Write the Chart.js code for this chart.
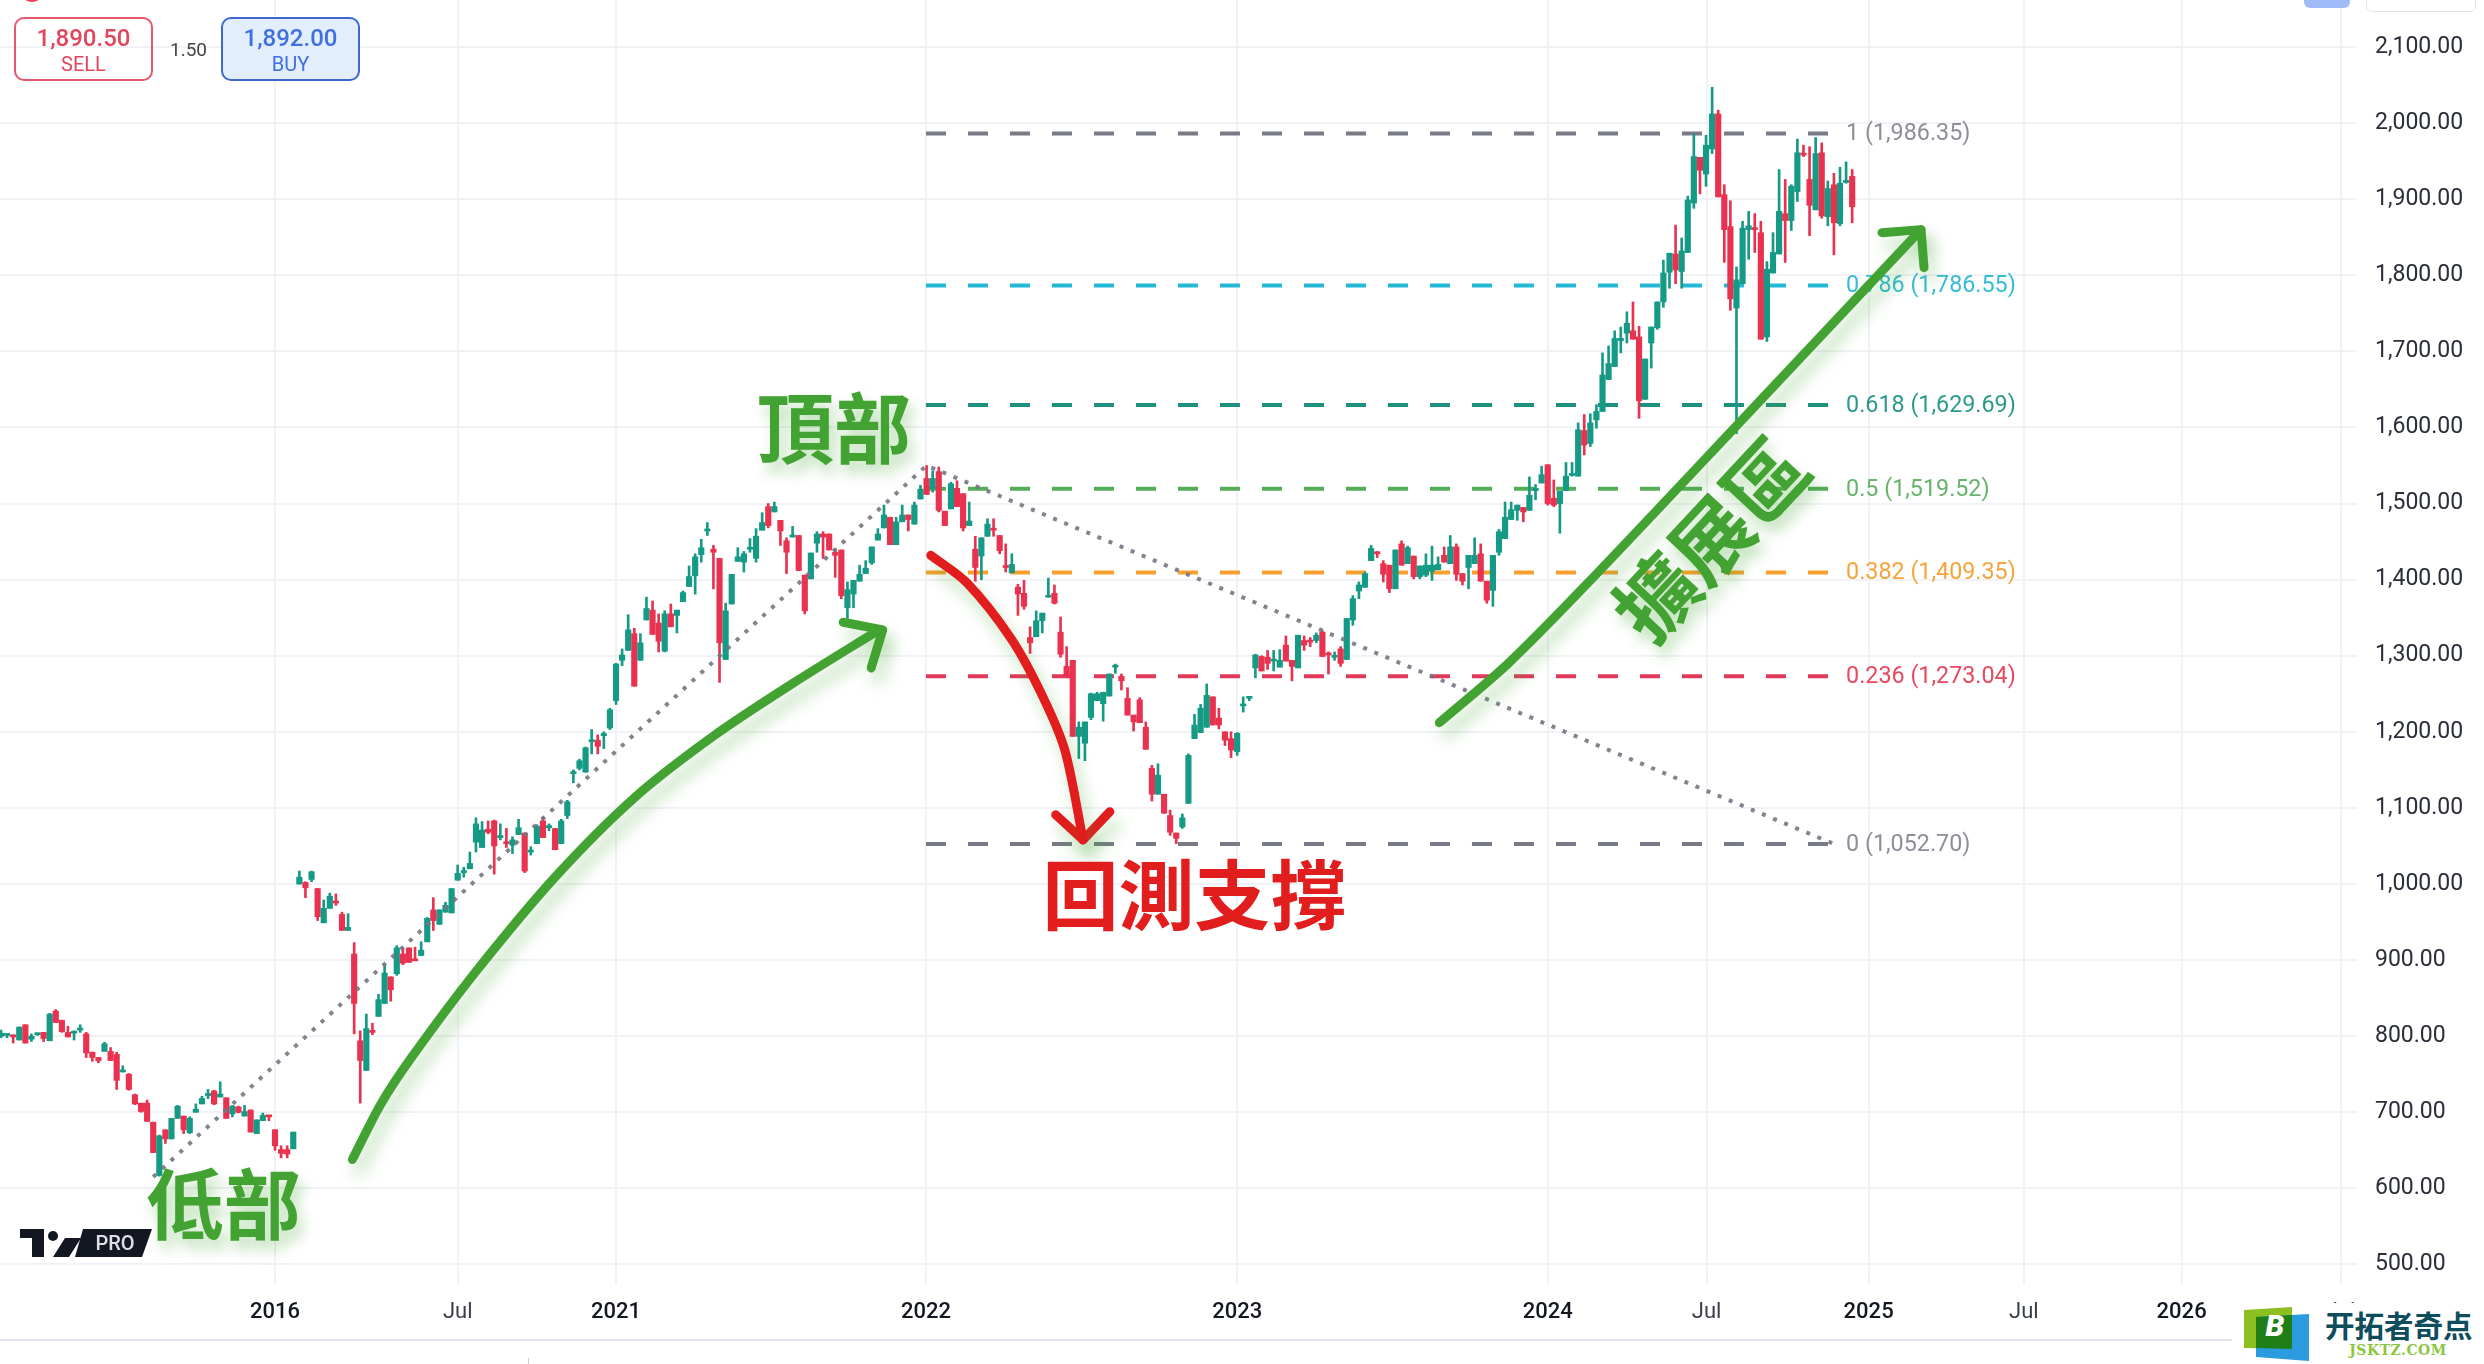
<!DOCTYPE html>
<html>
<head>
<meta charset="utf-8">
<title>Fibonacci chart</title>
<script src="https://cdn.jsdelivr.net/npm/chart.js@4/dist/chart.umd.min.js"></script>
<style>
body { margin: 0; background: #fff; font-family: Roboto, sans-serif; overflow: hidden; }
#wrap { position: relative; width: 2484px; height: 1364px; overflow: hidden; filter: blur(0.5px); }
canvas { position: absolute; left: 0; top: 0; }
.box { position: absolute; top: 17px; height: 60px; width: 135px; border-radius: 10px; border: 2px solid; text-align: center; box-sizing: content-box; }
.box b { display: block; font-weight: 500; font-size: 24px; line-height: 26px; margin-top: 6px; }
.box span { display: block; font-size: 20px; line-height: 22px; margin-top: 2px; }
#sell { left: 14px; border-color: #e8566b; color: #e2455c; }
#buy { left: 221px; border-color: #3c69cf; color: #3f70e2; background: #e3eefc; }
#spread { position: absolute; left: 170px; top: 38px; font-size: 19px; line-height: 24px; color: #444; }
.piece { position: absolute; }
</style>
</head>
<body>
<div id="wrap">
  <canvas id="goldChart" width="2484" height="1364"></canvas>

  <div id="sell" class="box"><b>1,890.50</b><span>SELL</span></div>
  <div id="spread">1.50</div>
  <div id="buy" class="box"><b>1,892.00</b><span>BUY</span></div>

  <!-- bits of the cropped toolbar -->
  <div class="piece" style="left:20px;top:-22px;width:24px;height:24px;border-radius:12px;background:#e2455c"></div>
  <div class="piece" style="left:2304px;top:-10px;width:46px;height:18px;border-radius:6px;background:#a0bcf8"></div>
  <div class="piece" style="left:2366px;top:-10px;width:108px;height:20px;border-radius:6px;border:1px solid #e0e3eb"></div>
  <div class="piece" style="left:0;top:1339px;width:2240px;height:2px;background:#e0e3eb"></div>
  <div class="piece" style="left:528px;top:1358px;width:1px;height:6px;background:#ccc"></div>

  <svg class="piece" style="left:20px;top:1229px" width="134" height="28" viewBox="0 0 134 28">
    <path d="M0 0H24V28H12V9H0Z" fill="#131722"/>
    <circle cx="33" cy="7" r="5" fill="#131722"/>
    <path d="M33 28L45 9H61L49 28Z" fill="#131722"/>
    <path d="M63 0H132L122 28H55Z" fill="#131722"/>
    <text x="95" y="21" font-family="Roboto" font-weight="500" font-size="20" fill="#dfe1e6" text-anchor="middle">PRO</text>
  </svg>

  <div class="piece" style="left:2232px;top:1303px;width:252px;height:61px;background:#fff"></div>
  <svg class="piece" style="left:2240px;top:1304px" width="244" height="60" viewBox="0 0 244 60">
    <path d="M4 6L52 3V45L4 44Z" fill="#8cbf1f"/>
    <path d="M16 13L69 10V57L16 53Z" fill="#2b9bdf"/>
    <path d="M16 13L52 11V45L16 44Z" fill="#1f7f16"/>
    <text x="35" y="32" font-family="Roboto" font-style="italic" font-weight="900" font-size="30" fill="#fff" text-anchor="middle">B</text>
    <text x="85" y="33" font-family="Noto Sans CJK SC" font-weight="700" font-size="29.5" fill="#0f4c5c">开拓者奇点</text>
    <text x="158" y="51" font-family="DejaVu Serif" font-weight="700" font-size="14" fill="#8cc63f" text-anchor="middle" letter-spacing="0.5">JSKTZ.COM</text>
  </svg>
</div>

<script>
// weekly candles, one slot per week bar
const opens = [
    800,801,801,795,815,796,802,805,794,833,
    821,805,804,808,803,779,772,780,780,776,
    753,750,723,712,712,687,617,677,665,692,
    695,673,700,711,722,728,720,719,698,707,
    695,703,672,689,696,677,651,651,652,1000,
    1002,1006,994,949,968,976,960,939,908,794,
    755,806,826,843,878,882,908,916,900,906,
    924,966,947,963,962,1005,1015,1020,1055,1048,
    1072,1083,1061,1055,1051,1065,1067,1042,1053,1083,
    1074,1073,1053,1090,1145,1152,1147,1187,1189,1195,
    1205,1241,1294,1307,1329,1294,1347,1360,1343,1306,
    1355,1353,1371,1391,1405,1433,1464,1440,1428,1295,
    1368,1424,1423,1440,1428,1465,1496,1489,1478,1451,
    1456,1458,1406,1401,1448,1460,1460,1436,1439,1363,
    1381,1398,1408,1422,1452,1468,1482,1446,1476,1485,
    1473,1506,1533,1520,1542,1490,1493,1520,1513,1471,
    1440,1431,1457,1467,1458,1418,1409,1390,1382,1324,
    1325,1346,1377,1382,1331,1286,1294,1194,1185,1219,
    1241,1237,1247,1285,1273,1244,1222,1242,1206,1152,
    1118,1118,1090,1067,1075,1106,1191,1199,1206,1246,
    1218,1200,1191,1174,1234,1244,1284,1299,1298,1293,
    1285,1314,1294,1284,1320,1320,1320,1331,1303,1298,
    1309,1295,1347,1385,1390,1425,1436,1421,1419,1388,
    1447,1421,1431,1404,1406,1411,1413,1432,1421,1443,
    1408,1416,1421,1434,1398,1386,1436,1454,1479,1491,
    1495,1491,1517,1527,1551,1507,1500,1517,1537,1536,
    1596,1579,1610,1621,1663,1680,1714,1724,1727,1719,
    1637,1711,1731,1765,1804,1828,1805,1830,1895,1955,
    1933,1966,2012,1906,1864,1757,1789,1860,1861,1856,
    1719,1803,1828,1881,1872,1910,1959,1926,1886,1961,
    1877,1919,1868,1922,1930
];
const highs = [
    808,803,802,812,815,803,804,805,830,835,
    821,813,807,815,805,779,772,792,785,779,
    761,751,724,712,716,687,670,677,692,709,
    695,694,711,721,730,729,740,719,709,708,
    709,703,690,699,696,677,656,656,674,1017,
    1003,1017,994,979,988,987,963,961,923,807,
    829,817,855,893,878,919,916,916,917,924,
    956,982,966,976,994,1025,1022,1042,1087,1082,
    1083,1084,1079,1073,1062,1085,1067,1049,1078,1088,
    1079,1073,1085,1110,1150,1164,1180,1203,1196,1200,
    1231,1290,1309,1354,1336,1329,1377,1372,1355,1359,
    1368,1360,1385,1418,1434,1453,1475,1445,1428,1369,
    1407,1442,1437,1454,1467,1488,1500,1502,1478,1455,
    1470,1458,1406,1435,1463,1463,1460,1441,1439,1397,
    1399,1419,1425,1443,1467,1498,1482,1482,1498,1485,
    1502,1524,1550,1543,1548,1490,1528,1530,1513,1502,
    1457,1455,1480,1480,1458,1447,1434,1394,1399,1338,
    1359,1356,1402,1393,1351,1312,1294,1213,1213,1251,
    1252,1252,1276,1289,1276,1258,1222,1245,1213,1156,
    1158,1118,1097,1067,1092,1171,1223,1236,1263,1246,
    1231,1200,1200,1199,1246,1246,1302,1300,1307,1307,
    1308,1326,1294,1327,1326,1324,1330,1333,1305,1305,
    1312,1349,1379,1397,1410,1445,1437,1425,1419,1439,
    1451,1444,1431,1418,1434,1444,1430,1443,1458,1447,
    1408,1432,1455,1447,1398,1432,1466,1502,1502,1498,
    1495,1535,1525,1549,1551,1531,1516,1554,1554,1606,
    1617,1618,1630,1698,1707,1727,1732,1752,1765,1733,
    1690,1732,1765,1820,1829,1866,1849,1904,1986,1955,
    1984,2047,2017,1919,1898,1811,1871,1884,1881,1871,
    1818,1856,1939,1926,1919,1979,1971,1969,1981,1974,
    1924,1934,1942,1949,1939
];
const lows = [
    798,798,791,795,791,793,801,793,794,818,
    805,799,795,805,772,767,765,780,768,730,
    753,729,710,700,688,647,616,659,665,692,
    672,672,700,711,718,710,720,692,694,699,
    695,674,672,689,689,650,640,640,652,1000,
    982,1003,952,949,968,972,939,939,803,712,
    755,802,826,843,846,880,894,897,899,906,
    924,939,947,963,962,1005,1009,1020,1042,1048,
    1066,1013,1058,1048,1040,1065,1015,1038,1053,1061,
    1070,1045,1053,1086,1133,1150,1147,1171,1171,1178,
    1203,1236,1287,1307,1260,1294,1347,1328,1305,1305,
    1338,1330,1371,1391,1381,1423,1458,1388,1265,1295,
    1368,1424,1410,1436,1423,1465,1468,1489,1445,1408,
    1456,1412,1355,1401,1436,1428,1439,1403,1375,1349,
    1363,1398,1408,1420,1452,1468,1446,1446,1476,1464,
    1473,1506,1512,1515,1489,1471,1493,1496,1464,1471,
    1398,1400,1457,1457,1434,1410,1409,1353,1361,1303,
    1325,1330,1377,1368,1298,1272,1194,1165,1162,1216,
    1241,1214,1247,1277,1255,1222,1201,1212,1177,1109,
    1118,1093,1064,1053,1073,1106,1191,1199,1206,1209,
    1204,1182,1166,1169,1226,1241,1271,1280,1282,1280,
    1285,1293,1267,1284,1307,1312,1317,1299,1276,1294,
    1286,1295,1340,1375,1390,1425,1429,1397,1383,1388,
    1419,1421,1401,1401,1404,1399,1413,1423,1421,1399,
    1393,1388,1421,1398,1369,1365,1432,1454,1479,1478,
    1476,1491,1505,1527,1498,1496,1461,1517,1536,1536,
    1564,1575,1599,1621,1663,1680,1698,1711,1716,1612,
    1637,1678,1729,1758,1783,1789,1783,1830,1888,1907,
    1917,1960,1903,1817,1754,1592,1789,1821,1830,1716,
    1713,1803,1828,1817,1859,1897,1956,1852,1886,1875,
    1865,1827,1865,1921,1869
];
const closes = [
    804,802,799,812,791,800,803,797,829,818,
    806,799,805,810,778,772,768,790,768,742,
    755,730,711,701,688,647,669,665,692,708,
    677,692,704,718,724,711,724,692,708,700,
    701,674,690,696,694,656,646,645,674,1009,
    995,1016,957,968,984,975,939,943,843,768,
    810,805,848,883,861,916,896,897,899,913,
    955,952,966,972,994,1014,1017,1027,1079,1071,
    1068,1050,1062,1053,1058,1074,1017,1043,1076,1061,
    1075,1045,1083,1108,1146,1162,1179,1188,1181,1196,
    1229,1289,1301,1334,1260,1317,1362,1328,1319,1355,
    1338,1360,1383,1404,1430,1442,1466,1436,1317,1359,
    1407,1430,1434,1442,1457,1475,1471,1496,1464,1436,
    1458,1412,1359,1435,1460,1456,1439,1432,1379,1387,
    1399,1407,1415,1443,1460,1485,1446,1476,1485,1479,
    1498,1519,1512,1533,1491,1471,1526,1496,1468,1477,
    1416,1455,1473,1465,1438,1416,1420,1381,1365,1317,
    1346,1356,1379,1369,1302,1272,1194,1206,1213,1250,
    1250,1252,1276,1286,1267,1222,1213,1212,1177,1118,
    1143,1093,1068,1060,1087,1169,1209,1231,1248,1209,
    1209,1189,1176,1198,1236,1245,1301,1280,1290,1294,
    1294,1293,1286,1327,1314,1318,1327,1299,1301,1299,
    1290,1349,1375,1393,1408,1441,1434,1407,1388,1439,
    1419,1442,1404,1418,1419,1419,1420,1423,1443,1407,
    1398,1432,1432,1398,1373,1432,1463,1482,1492,1498,
    1489,1511,1520,1538,1500,1498,1516,1536,1538,1597,
    1577,1606,1621,1669,1684,1717,1717,1737,1716,1635,
    1690,1732,1765,1803,1829,1807,1832,1899,1956,1938,
    1971,2012,1903,1860,1769,1794,1862,1865,1860,1716,
    1808,1830,1884,1872,1917,1961,1958,1892,1960,1878,
    1914,1869,1921,1923,1890
];

// axes
const priceTicks = [500, 600, 700, 800, 900, 1000, 1100, 1200, 1300, 1400, 1500, 1600, 1700, 1800, 1900, 2000, 2100];
const tickWeeks = [45, 75, 101, 151.9, 203, 254, 280.1, 306.7, 332.2, 358.1, 384.2];
const tickLabels = ['2016', 'Jul', '2021', '2022', '2023', '2024', 'Jul', '2025', 'Jul', '2026', 'Jul'];

// fibonacci levels
const fibNames = ['1', '0.786', '0.618', '0.5', '0.382', '0.236', '0'];
const fibPrices = [1986.35, 1786.55, 1629.69, 1519.52, 1409.35, 1273.04, 1052.70];
const fibLineColors = ['#787b86', '#22b8d6', '#1f8f80', '#54ad58', '#f7a02f', '#e0395a', '#787b86'];
const fibTextColors = ['#8c8f99', '#35bcd8', '#2b9a8c', '#68b26c', '#f5a43c', '#e8495f', '#8c8f99'];
const fibStart = 151.9;
const fibEnd = 300.2;
const fibLabelWeek = 303;

// dotted trend line: low, top, back down to the 0 level
const trendWeeks = [25, 152, 301];
const trendPrices = [615, 1550, 1052.7];

// hand drawn arrows
const riseWeeks = [57.7, 62.4, 67.6, 78, 91.1, 104.1, 117.1, 130.1, 144];
const risePrices = [638, 711, 774, 885, 1010, 1114, 1195, 1264, 1333];
const riseHeadWeeks = [138.3, 144.8, 142.9];
const riseHeadPrices = [1344, 1334, 1284];
const dropWeeks = [152.7, 158.6, 166, 171.1, 174.7, 177.7];
const dropPrices = [1432, 1396, 1321, 1246, 1176, 1058];
const dropHeadWeeks = [173.2, 177.7, 182.1];
const dropHeadPrices = [1091, 1058, 1095];
const extWeeks = [236.2, 247.4, 260.4, 286.5, 315.3];
const extPrices = [1212, 1289, 1394, 1615, 1860];
const extHeadWeeks = [308.9, 315.3, 315.8];
const extHeadPrices = [1856, 1860, 1810];

// hand written notes
const noteTexts = ['頂部', '低部', '回測支撐', '擴展區'];
const noteWeeks = [136.8, 36.6, 196, 280.8];
const notePrices = [1598, 579, 985, 1453];
const noteColors = ['#43a332', '#43a332', '#e21d1d', '#43a332'];
const noteSizes = [77, 77, 76, 80];
const noteAngles = [0, 0, 0, -47];

const upColor = '#149a85';
const downColor = '#e8324f';
const GREEN = '#43a332';
const RED = '#e21d1d';
const GRID = '#f1f2f5';

function toPoints(xs, ys) {
    return xs.map((x, i) => ({ x: x, y: ys[i] }));
}

function candleColor(ctx) {
    const i = ctx.dataIndex;
    return closes[i] >= opens[i] ? upColor : downColor;
}

function drawn(xs, ys, color, curved) {
    return {
        type: 'line',
        data: toPoints(xs, ys),
        borderColor: color,
        borderWidth: 9,
        borderCapStyle: 'round',
        borderJoinStyle: 'round',
        pointRadius: 0,
        tension: curved ? 0.3 : 0,
        clip: false,
        glow: true,
        order: 0
    };
}

const fibDatasets = fibPrices.map((price, i) => ({
    type: 'line',
    data: [{ x: fibStart, y: price }, { x: fibEnd, y: price }],
    borderColor: fibLineColors[i],
    borderWidth: 4,
    borderDash: [20, 22],
    pointRadius: 0,
    order: 4
}));

// year labels are darker than month labels
function isYearTick(ctx) {
    return !!ctx.tick && /^\d/.test(tickLabels[tickWeeks.indexOf(ctx.tick.value)]);
}

// labels of the levels go under the candles and arrows, notes over them
const annotationsPlugin = {
    id: 'annotations',
    beforeDatasetsDraw(chart) {
        const { ctx, scales } = chart;
        ctx.save();
        ctx.font = '23.3px Roboto';
        ctx.textAlign = 'left';
        ctx.textBaseline = 'middle';
        fibPrices.forEach((price, i) => {
            const label = fibNames[i] + ' (' + price.toLocaleString('en-US', { minimumFractionDigits: 2 }) + ')';
            ctx.fillStyle = fibTextColors[i];
            ctx.fillText(label, scales.x.getPixelForValue(fibLabelWeek), scales.y.getPixelForValue(price) + 1);
        });
        ctx.restore();
    },
    beforeDatasetDraw(chart, args) {
        if (chart.data.datasets[args.index].glow) {
            const ctx = chart.ctx;
            ctx.save();
            ctx.shadowColor = 'rgba(67, 163, 50, 0.35)';
            ctx.shadowBlur = 16;
            ctx.shadowOffsetX = 6;
            ctx.shadowOffsetY = 12;
        }
    },
    afterDatasetDraw(chart, args) {
        if (chart.data.datasets[args.index].glow) {
            chart.ctx.restore();
        }
    },
    afterDatasetsDraw(chart) {
        const { ctx, scales } = chart;
        noteTexts.forEach((text, i) => {
            ctx.save();
            ctx.translate(scales.x.getPixelForValue(noteWeeks[i]), scales.y.getPixelForValue(notePrices[i]));
            ctx.rotate(noteAngles[i] * Math.PI / 180);
            ctx.font = '700 ' + noteSizes[i] + 'px "Noto Sans CJK TC"';
            ctx.textAlign = 'center';
            ctx.textBaseline = 'middle';
            ctx.fillStyle = noteColors[i];
            if (noteColors[i] === GREEN) {
                ctx.shadowColor = 'rgba(67, 163, 50, 0.35)';
                ctx.shadowBlur = 14;
                ctx.shadowOffsetX = 5;
                ctx.shadowOffsetY = 10;
            }
            ctx.fillText(text, 0, 0);
            ctx.restore();
        });
    }
};

function noPadding(scale) {
    scale.paddingTop = 0;
    scale.paddingBottom = 0;
    scale.paddingLeft = 0;
    scale.paddingRight = 0;
}

document.addEventListener('DOMContentLoaded', () => {
    const weeks = opens.map((_, i) => i);
    new Chart(document.getElementById('goldChart').getContext('2d'), {
        type: 'bar',
        data: {
            datasets: [
                drawn(riseWeeks, risePrices, GREEN, true),
                drawn(riseHeadWeeks, riseHeadPrices, GREEN, false),
                drawn(dropWeeks, dropPrices, RED, true),
                drawn(dropHeadWeeks, dropHeadPrices, RED, false),
                drawn(extWeeks, extPrices, GREEN, true),
                drawn(extHeadWeeks, extHeadPrices, GREEN, false),
                {
                    type: 'line',
                    data: toPoints(trendWeeks, trendPrices),
                    borderColor: 'rgba(115, 118, 130, 0.9)',
                    borderWidth: 4,
                    borderDash: [4, 8],
                    pointRadius: 0,
                    order: 1
                },
                {
                    data: weeks.map(i => ({ x: i, y: [opens[i], closes[i]] })),
                    backgroundColor: candleColor,
                    barThickness: 5.5,
                    minBarLength: 2,
                    grouped: false,
                    order: 2
                },
                {
                    data: weeks.map(i => ({ x: i, y: [lows[i], highs[i]] })),
                    backgroundColor: candleColor,
                    barThickness: 2,
                    grouped: false,
                    order: 3
                },
                ...fibDatasets
            ]
        },
        options: {
            responsive: false,
            animation: false,
            layout: { padding: 0 },
            plugins: {
                legend: { display: false },
                tooltip: { enabled: false }
            },
            scales: {
                x: {
                    type: 'linear',
                    offset: false,
                    min: -0.16,
                    max: 386.9,
                    border: { display: false },
                    grid: { color: GRID, lineWidth: 2, drawTicks: false, offset: false },
                    afterBuildTicks: scale => {
                        scale.ticks = tickWeeks.map(value => ({ value: value }));
                    },
                    afterFit: scale => {
                        scale.height = 79;
                        noPadding(scale);
                    },
                    ticks: {
                        autoSkip: false,
                        maxRotation: 0,
                        padding: 14,
                        color: ctx => isYearTick(ctx) ? '#131722' : '#3a3e4a',
                        font: ctx => ({
                            family: 'Roboto',
                            size: 22,
                            weight: isYearTick(ctx) ? '500' : '400'
                        }),
                        callback: value => tickLabels[tickWeeks.indexOf(value)]
                    }
                },
                y: {
                    type: 'linear',
                    position: 'right',
                    min: 473,
                    max: 2161.8,
                    border: { display: false },
                    grid: { color: GRID, lineWidth: 2, drawTicks: false },
                    afterBuildTicks: scale => {
                        scale.ticks = priceTicks.map(value => ({ value: value }));
                    },
                    afterFit: scale => {
                        scale.width = 127;
                        noPadding(scale);
                    },
                    ticks: {
                        padding: 18,
                        color: '#2a2e39',
                        font: { family: 'Roboto', size: 23 },
                        callback: value => value.toLocaleString('en-US', { minimumFractionDigits: 2 })
                    }
                }
            }
        },
        plugins: [annotationsPlugin]
    });
});
</script>
</body>
</html>
